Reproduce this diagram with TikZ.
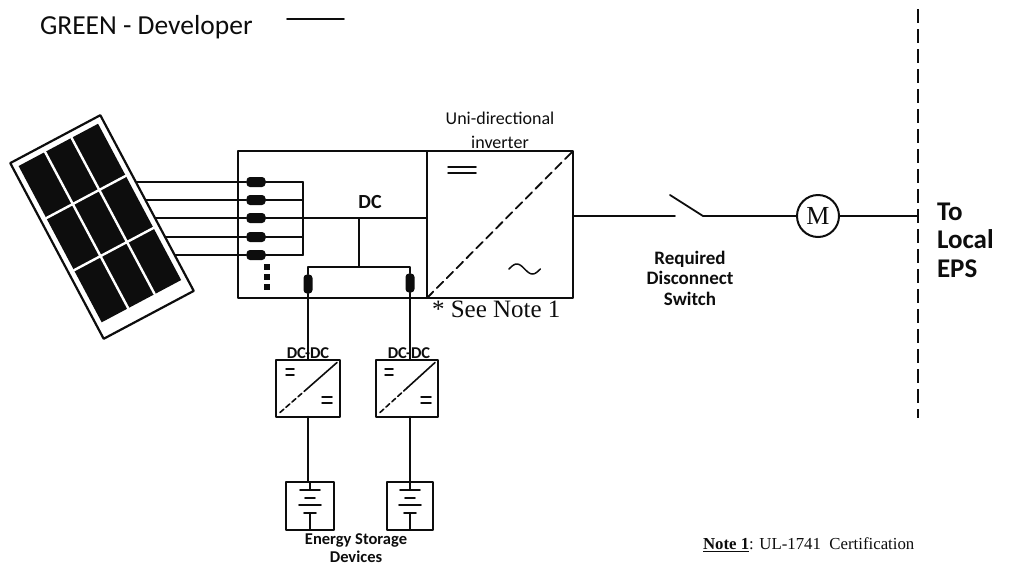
\documentclass[tikz,border=0pt]{standalone}
\usepackage{fontspec}
\setmainfont{Liberation Serif}
\setsansfont{Carlito}
\usetikzlibrary{arrows.meta,calc,positioning}
\definecolor{PlantInk}{gray}{0.05}
\tikzset{
    plant/diagram/.style={
        font=\sffamily,
        draw=PlantInk,
        text=PlantInk,
        line width=1.5pt,
        line cap=round,
        line join=round,
        every node/.style={inner sep=0pt, outer sep=0pt}
    },
    plant/wire/.style={draw=PlantInk, line width=1.5pt},
    plant/box/.style={rectangle, draw=PlantInk, fill=white, line width=2pt},
    plant/plug/.style={
        rectangle, fill=PlantInk, draw=none, rounded corners=3.5pt,
        minimum width=19pt, minimum height=10pt
    },
    plant/socket/.style={
        rectangle, fill=PlantInk, draw=none, rounded corners=3.5pt,
        minimum width=9pt, minimum height=19pt
    },
    plant/dot/.style={rectangle, fill=PlantInk, draw=none, minimum size=6pt},
    plant/boundary/.style={
        draw=PlantInk, line width=1.8pt, line cap=butt,
        dash pattern=on 14pt off 6pt
    },
    plant/split/.style={draw=PlantInk, line width=1.8pt, dash pattern=on 9pt off 5pt},
    plant/tag/.style={font=\sffamily\bfseries\fontsize{16.5}{18.5}\selectfont, align=center},
    plant/note/.style={font=\rmfamily\fontsize{16.8}{17}\selectfont, anchor=west},
    pics/dcsign/.style={code={
        \draw[line width=1.5pt] (-#1,-2.8) -- (#1,-2.8) (-#1,2.8) -- (#1,2.8);
    }},
    pics/cell/.style={code={
        \draw[line width=1.4pt] (0,-24) -- (0,-16);
        \draw[line width=1.6pt] (-10,-16) -- (10,-16) (-5,-8) -- (5,-8)
            (-11,-1) -- (11,-1) (-6,7) -- (6,7);
        \draw[line width=1.4pt] (0,7) -- (0,24);
    }}
}

\begin{document}
\begin{tikzpicture}[plant/diagram, x=1pt, y=-1pt]
    \useasboundingbox (0,0) rectangle (1025,568);

    \node[anchor=west, font=\sffamily\fontsize{27.5}{27.5}\selectfont] (legend) at (40,27)
        {GREEN - Developer};
    \coordinate (legendend) at (344,19);
    \draw[line width=1.8pt] (legendend) -- ++(-57,0);

    \node[plant/box, anchor=north west, minimum width=189pt, minimum height=147pt]
        (dcbox) at (238,151) {};
    \node[plant/box, anchor=north west, minimum width=146pt, minimum height=147pt]
        (inv) at (dcbox.north east) {};
    \node[font=\sffamily\bfseries\fontsize{20}{20}\selectfont] (dclabel) at (370,202) {DC};

    % strings coming from the panel
    \coordinate (panelmid) at (102,227);
    \foreach \y [count=\i] in {182,200,218,237,255}
        \node[plant/plug] (c\i) at (256,\y) {};
    \foreach \i in {1,...,5}
        \draw[plant/wire] (c\i.west) -- (c\i.west -| panelmid);
    \foreach \y [count=\i] in {267,277,287}
        \node[plant/dot] (dot\i) at (267,\y) {};

    \node[plant/box, line width=2.2pt, minimum width=102pt, minimum height=199pt, rotate=28]
        (panel) at (panelmid) {};
    \begin{scope}[shift={(panelmid)}, rotate=28]
        \fill[PlantInk] (-45,-93) rectangle (45,84);
        \draw[white, line width=2.4pt] (-15,-93) -- (-15,84) (15,-93) -- (15,84)
            (-45,-34) -- (45,-34) (-45,25) -- (45,25);
    \end{scope}

    % dc bus
    \coordinate (bus) at (303,0);
    \draw[plant/wire] (c1.east -| bus) -- (c5.east -| bus);
    \foreach \i in {1,2,4,5}
        \draw[plant/wire] (c\i.east) -- (c\i.east -| bus);
    \draw[plant/wire] (c3.east) -- (c3.east -| dcbox.east);

    \node[plant/socket] (s1) at (308,284) {};
    \node[plant/socket] (s2) at (410,283) {};
    \coordinate (split) at (359,267);
    \draw[plant/wire] (c3.east -| split) -- (split);
    \draw[plant/wire] (s1.north) |- (split) -| (s2.north);

    % inverter
    \draw[plant/split] (inv.south west) -- (inv.north east);
    \pic at (462,170) {dcsign=14};
    \draw[line width=1.5pt] plot[domain=0:360, samples=40, smooth]
        ({509+\x/11.5},{269-5*sin(\x)});
    \node[font=\sffamily\fontsize{18}{24}\selectfont, align=center] (invtag) at (500,130)
        {Uni-directional\\inverter};
    \node[anchor=west, font=\rmfamily\fontsize{25}{25}\selectfont] (seenote) at (432,309)
        {* See Note 1};

    % switch and meter
    \coordinate (swA) at (675,216);
    \coordinate (swB) at (703,216);
    \node[circle, draw=PlantInk, line width=2pt, minimum size=42pt,
        font=\rmfamily\fontsize{26}{26}\selectfont] (meter) at (818,216) {M};
    \coordinate (eps) at (918,216);
    \draw[plant/wire] (swA -| inv.east) -- (swA);
    \draw[line width=1.8pt] (swB) -- ++(-33,-21);
    \draw[plant/wire] (swB) -- (meter);
    \draw[plant/wire] (meter) -- (eps);
    \node[plant/tag, font=\sffamily\bfseries\fontsize{19}{20.5}\selectfont] (swtag)
        at (690,278) {Required\\Disconnect\\Switch};

    \draw[plant/boundary] (918,9) -- (918,418);
    \node[anchor=west, align=left, font=\sffamily\bfseries\fontsize{27}{28.5}\selectfont]
        (epstag) at (937,240) {To\\Local\\EPS};

    % storage branch
    \foreach \x/\w [count=\i] in {308/64, 407/62} {
        \node[plant/box, minimum width=\w pt, minimum height=57pt] (conv\i) at (\x,388) {};
        \draw[dash pattern=on 5pt off 3pt, line width=1.6pt]
            ($(conv\i.south west)+(4,-4)$) -- (conv\i.center);
        \draw[line width=1.6pt] (conv\i.center) -- ($(conv\i.north east)+(-3,3)$);
        \pic at ($(conv\i.center)+(-18,-16)$) {dcsign=4};
        \pic at ($(conv\i.center)+(19,12)$) {dcsign=5};
    }
    \draw[plant/wire] (s1.south) -- (s1.south |- conv1.north);
    \draw[plant/wire] (s2.south) -- (s2.south |- conv2.north);
    \node[plant/tag] (conv1tag) at (308,353) {DC-DC};
    \node[plant/tag] (conv2tag) at (409,353) {DC-DC};

    \node[plant/box, minimum width=48pt, minimum height=48pt] (store1) at (310,506) {};
    \node[plant/box, minimum width=46pt, minimum height=48pt] (store2) at (410,506) {};
    \pic at (store1.center) {cell};
    \pic at (store2.center) {cell};
    \draw[plant/wire] (conv1.south) -- (conv1.south |- store1.north);
    \draw[plant/wire] (conv2.south -| store2.north) -- (store2.north);
    \node[plant/tag] (storetag) at (356,548) {Energy Storage\\Devices};

    \node[plant/note] (note) at (703,545)
        {\underline{\textbf{Note 1}}: UL-1741\ \ Certification};
\end{tikzpicture}
\end{document}
